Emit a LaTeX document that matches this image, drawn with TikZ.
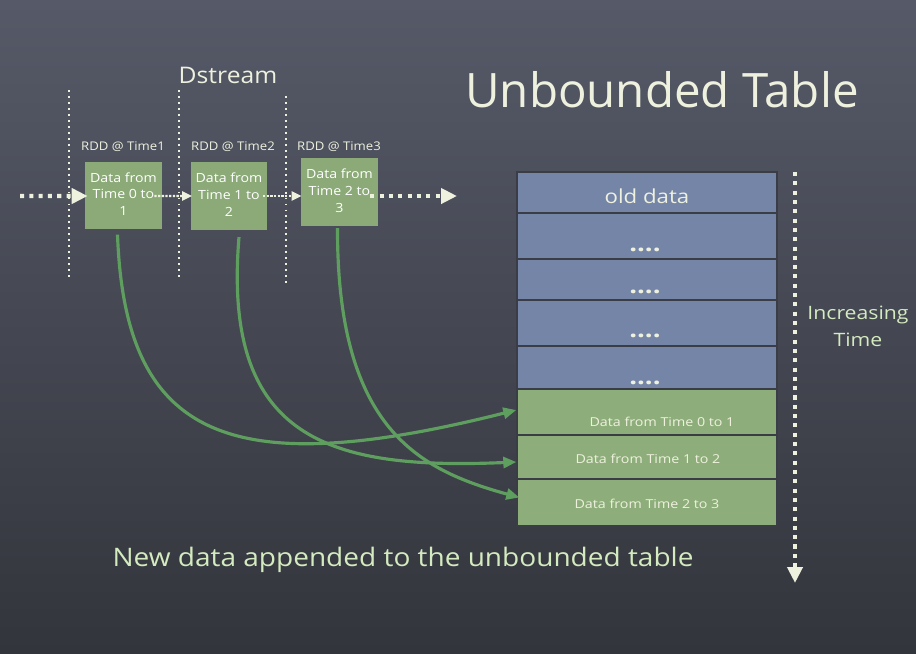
\documentclass[tikz,border=0pt]{standalone}
\usepackage{fontspec}
\setmainfont{Open Sans}
\usetikzlibrary{arrows.meta,calc}
\definecolor{cream}{HTML}{EEF1DE}
\definecolor{lgreen}{HTML}{D4EABF}
\definecolor{boxgreen}{HTML}{8BAA77}
\definecolor{tblue}{HTML}{7585A8}
\definecolor{tgreen}{HTML}{8DAE7A}
\definecolor{curvegreen}{HTML}{5E9E5E}
\definecolor{tline}{HTML}{3A3D46}
\definecolor{bgtop}{HTML}{565A68}
\definecolor{bgbot}{HTML}{33353C}
\newcommand\xs[2]{\scalebox{#1}[1]{#2}}
\newcommand\stk[1]{\begin{tabular}{@{}c@{}}#1\end{tabular}}
\tikzset{
  fs/.style={font=\fontsize{#1}{#1}\selectfont},
  rddbox/.style={fill=boxgreen, minimum width=1.54cm, minimum height=1.35cm, inner sep=0pt,
    align=center, text=white, font=\fontsize{7.2}{9.6}\selectfont},
  tblrow/.style={draw=tline, line width=0.8pt, minimum width=5.2cm, inner sep=0pt, text=cream},
  bluerow/.style={tblrow, fill=tblue},
  greenrow/.style={tblrow, fill=tgreen},
  sep/.style={cream, line width=1.1pt, dash pattern=on 1.1pt off 2.3pt},
  thickdot/.style={cream, line width=2.3pt, dash pattern=on 2.3pt off 3pt, -{Triangle[length=0.32cm,width=0.3cm]}},
  thindot/.style={cream, line width=1.3pt, dash pattern=on 1.3pt off 0.8pt, -{Triangle[length=0.2cm,width=0.18cm]}},
  flow/.style={curvegreen, line width=1.8pt, -{Triangle[length=0.26cm,width=0.22cm]}},
  dots/.style={text=cream, font=\fontsize{13}{13}\selectfont\bfseries, inner sep=0pt},
}
\begin{document}
\begin{tikzpicture}[x=0.02cm,y=-0.02cm]
\useasboundingbox (0,0) rectangle (916,653);
\shade[top color=bgtop, bottom color=bgbot] (0,0) rectangle (916,653);

% titles
\node[fs=27, text=cream, anchor=base] (title) at (662,107) {Unbounded Table};
\node[fs=13, text=cream, anchor=base] (dstream) at (228,83) {\xs{1.08}{Dstream}};

% separators
\coordinate (s1a) at (69,90);  \coordinate (s1b) at (69,281);
\coordinate (s2a) at (179,90); \coordinate (s2b) at (179,281);
\coordinate (s3a) at (286,96); \coordinate (s3b) at (286,287);
\draw[sep] (s1a) -- (s1b);
\draw[sep] (s2a) -- (s2b);
\draw[sep] (s3a) -- (s3b);

% RDD labels
\node[fs=6.8, text=cream, anchor=base] (l1) at (123,150) {\xs{1.1}{RDD @ Time1}};
\node[fs=6.8, text=cream, anchor=base] (l2) at (233,150) {\xs{1.1}{RDD @ Time2}};
\node[fs=6.8, text=cream, anchor=base] (l3) at (339,150) {\xs{1.1}{RDD @ Time3}};

% RDD boxes
\node[rddbox] (b1) at (123.5,195.5) {\xs{1.12}{\stk{Data from\\Time 0 to\\1}}};
\node[rddbox] (b2) at (229,196) {\xs{1.12}{\stk{Data from\\Time 1 to\\2}}};
\node[rddbox] (b3) at (339.5,192) {\xs{1.12}{\stk{Data from\\Time 2 to\\3}}};

% stream arrows
\coordinate (in) at (20,196);
\coordinate (out) at (457,196);
\draw[thickdot] (in) -- ($(b1.west)+(3,0.5)$);
\draw[thindot] ($(b1.east)+(-8,0.5)$) -- ($(b2.west)+(2,0)$);
\draw[thindot] ($(b2.east)+(-5,0)$) -- ($(b3.west)+(1,4)$);
\draw[thickdot] ($(b3.east)+(-8,4)$) -- (out);

% table
\node[bluerow, minimum height=0.82cm] (r0) at (647,192.5) {};
\node[bluerow, minimum height=0.92cm] (r1) at (647,236) {};
\node[bluerow, minimum height=0.82cm] (r2) at (647,279.5) {};
\node[bluerow, minimum height=0.92cm] (r3) at (647,323) {};
\node[bluerow, minimum height=0.86cm] (r4) at (647,367.5) {};
\node[greenrow, minimum height=0.92cm] (g1) at (647,412) {};
\node[greenrow, minimum height=0.88cm] (g2) at (647,457) {};
\node[greenrow, minimum height=0.94cm] (g3) at (647,502.5) {};

\node[fs=11, text=cream, anchor=base] (old) at (647,203) {\xs{1.15}{old data}};
\node[dots] (d1) at (645,250) {\xs{1.2}{....}};
\node[dots] (d2) at (645,292) {\xs{1.2}{....}};
\node[dots] (d3) at (645,336) {\xs{1.2}{....}};
\node[dots] (d4) at (645,383) {\xs{1.2}{....}};

\node[fs=7, text=cream, anchor=base] (t1) at (662,426) {\xs{1.16}{Data from Time 0 to 1}};
\node[fs=7, text=cream, anchor=base] (t2) at (648,463) {\xs{1.16}{Data from Time 1 to 2}};
\node[fs=7, text=cream, anchor=base] (t3) at (647,508) {\xs{1.16}{Data from Time 2 to 3}};

% time arrow
\coordinate (ta) at (795,172);
\coordinate (tb) at (795,583);
\draw[thickdot] (ta) -- (tb);
\node[fs=10.5, text=lgreen, anchor=base] (inc) at (858,319) {\xs{1.15}{Increasing}};
\node[fs=10.5, text=lgreen, anchor=base] (tim) at (858,346) {\xs{1.15}{Time}};

% flows
\draw[flow] ($(b1.south)+(-6,5)$) .. controls (125,440) and (230,482) .. ($(g1.west)+(0,-2)$);
\draw[flow] ($(b2.south)+(10,7)$) .. controls (222,440) and (330,470) .. ($(g2.west)+(0,5)$);
\draw[flow] ($(b3.south)+(-2,2)$) .. controls (337,430) and (420,470) .. ($(g3.west)+(3,-5)$);

\node[fs=14.5, text=lgreen, anchor=base] (caption) at (403,566) {\xs{1.1}{New data appended to the unbounded table}};
\end{tikzpicture}
\end{document}
